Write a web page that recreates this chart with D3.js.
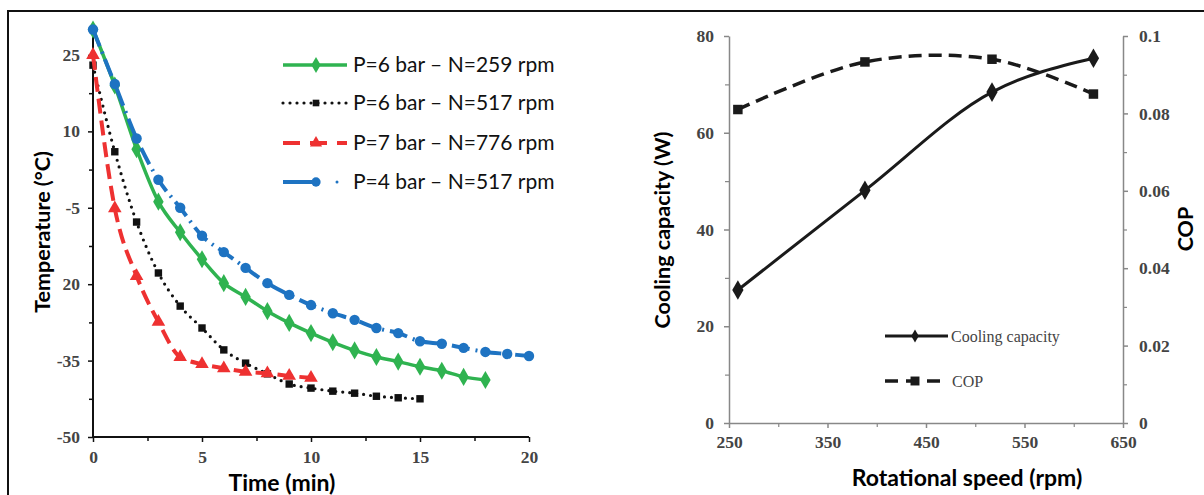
<!DOCTYPE html>
<html><head><meta charset="utf-8">
<script src="https://cdn.jsdelivr.net/npm/d3@7"></script>
<style>
html,body{margin:0;padding:0;background:#fff;}
svg{display:block;}
</style></head>
<body>
<svg id="c" width="1204" height="495"></svg>
<script>
// ---------- Left chart data ----------
const timeMin = [0,1,2,3,4,5,6,7,8,9,10,11,12,13,14,15,16,17,18,19,20];
const seriesNames = ["P=6 bar – N=259 rpm","P=6 bar – N=517 rpm","P=7 bar – N=776 rpm","P=4 bar – N=517 rpm"];
const tempP6N259 = [30,19,6.5,-3.8,-9.8,-15.1,-19.8,-22.5,-25.3,-27.6,-29.6,-31.4,-33.0,-34.3,-35.2,-36.2,-37.0,-38.2,-38.8];
const tempP6N517 = [23,6,-7.8,-17.8,-24.3,-28.6,-32.9,-35.5,-37.6,-39.6,-40.4,-41.0,-41.4,-42.0,-42.3,-42.5];
const tempP7N776 = [25,-5.1,-18.4,-27.4,-34.3,-35.7,-36.5,-37.2,-37.5,-38.0,-38.4];
const tempP4N517 = [30,19.3,8.6,0.5,-5.0,-10.5,-13.7,-16.8,-19.8,-22.1,-24.1,-25.7,-27.0,-28.6,-29.6,-31.2,-31.7,-32.5,-33.3,-33.7,-34.1];
const tempTicks = [25,10,-5,-20,-35,-50];
const tempTickLabels = ["25","10","-5","20","-35","-50"];
const timeTicks = [0,5,10,15,20];

// ---------- Right chart data ----------
const rpm = [259,388,517,620];
const coolingCapacity = [27.5,48.1,68.4,75.4];
const cop = [0.081,0.0933,0.094,0.085];
const rpmTicks = [250,350,450,550,650];
const capTicks = [0,20,40,60,80];
const copTicks = [0,0.02,0.04,0.06,0.08,0.1];
const copTickLabels = ["0","0.02","0.04","0.06","0.08","0.1"];

const svg = d3.select("#c");
svg.append("rect").attr("x",8).attr("y",11).attr("width",1210).attr("height",510)
  .attr("fill","none").attr("stroke","#111").attr("stroke-width",2);

const serif = "'Liberation Serif','Times New Roman',serif";
const sans = "Lato,'Open Sans',sans-serif";
const titleSize = 22;
const tickSize = 17.5;

// ================= LEFT CHART =================
const xL = d3.scaleLinear().domain([0,20]).range([93,529]);
const yL = d3.scaleLinear().domain([-50,30]).range([437,29.5]);
const gL = svg.append("g");

const yAxisL = d3.axisLeft(yL).tickValues(tempTicks).tickSize(5).tickFormat((d,i)=>tempTickLabels[i]);
const yAxisLMinor = d3.axisLeft(yL).tickValues(d3.range(-42.5,30,15)).tickSize(4).tickFormat("");
const xAxisL = d3.axisBottom(xL).tickValues(timeTicks).tickSize(5).tickFormat(d3.format("d"));
const xAxisLMinor = d3.axisBottom(xL).tickValues(d3.range(2.5,20,5)).tickSize(4).tickFormat("");

function styleAxis(g, color, width){
  g.attr("font-family",serif).attr("font-size",tickSize);
  g.select(".domain").attr("stroke",color).attr("stroke-width",width);
  g.selectAll(".tick line").attr("stroke",color).attr("stroke-width",width*0.75);
  g.selectAll(".tick text").attr("font-family",serif).attr("font-weight","bold").attr("font-size",tickSize).attr("fill","#444");
}
const gy = gL.append("g").attr("transform","translate(93,0)").call(yAxisL);
gy.select(".domain").attr("d","M0,29.5V437");
styleAxis(gy,"#111",2);
gy.selectAll(".tick text").attr("x",-13);
const gym = gL.append("g").attr("transform","translate(93,0)").call(yAxisLMinor);
gym.select(".domain").remove(); gym.selectAll("line").attr("stroke","#111").attr("stroke-width",1.5);

const gx = gL.append("g").attr("transform","translate(0,437)").call(xAxisL);
styleAxis(gx,"#111",2);
gx.select(".domain").attr("d","M93,0H529");
gx.selectAll(".tick text").attr("y",14);
const gxm = gL.append("g").attr("transform","translate(0,437)").call(xAxisLMinor);
gxm.select(".domain").remove(); gxm.selectAll("line").attr("stroke","#111").attr("stroke-width",1.5);

gL.append("text").attr("x",282).attr("y",491).attr("text-anchor","middle")
  .attr("font-family",sans).attr("font-weight","bold").attr("font-size",titleSize+1).attr("fill","#000").text("Time (min)");
gL.append("text").attr("transform","translate(50,232) rotate(-90)").attr("text-anchor","middle")
  .attr("font-family",sans).attr("font-weight","bold").attr("font-size",titleSize-0.5).attr("fill","#000").text("Temperature (°C)");

const leftSeries = [
  {name:seriesNames[0], values:tempP6N259, color:"#2fb350", dash:null, width:3.5, marker:"diamond", cap:"butt"},
  {name:seriesNames[1], values:tempP6N517, color:"#111", dash:"0,7", width:3.2, marker:"square", cap:"round"},
  {name:seriesNames[2], values:tempP7N776, color:"#ee3131", dash:"15,7", width:4, marker:"triangle", cap:"butt"},
  {name:seriesNames[3], values:tempP4N517, color:"#1e73c2", dash:"18,6,2,6", width:4, marker:"circle", cap:"butt"}
];
const symType = {diamond:d3.symbolDiamond, square:d3.symbolSquare, triangle:d3.symbolTriangle, circle:d3.symbolCircle};
const symSize = {diamond:95, square:55, triangle:80, circle:85};

const lineL = d3.line().x((d,i)=>xL(timeMin[i])).y(d=>yL(d)).curve(d3.curveMonotoneX);
[leftSeries[0],leftSeries[3],leftSeries[1],leftSeries[2]].forEach(s=>{
  gL.append("path").datum(s.values).attr("d",lineL).attr("fill","none")
    .attr("stroke",s.color).attr("stroke-width",s.width).attr("stroke-dasharray",s.dash)
    .attr("stroke-linecap",s.cap);
  gL.selectAll(null).data(s.values).enter().append("path")
    .attr("d",d3.symbol().type(symType[s.marker]).size(symSize[s.marker]))
    .attr("transform",(d,i)=>`translate(${xL(timeMin[i])},${yL(d)})`)
    .attr("fill",s.color);
});

const legY = [65,103,143,182];
leftSeries.forEach((s,i)=>{
  const y = legY[i];
  const g = gL.append("g");
  if(s.marker==="circle"){
    g.append("line").attr("x1",283).attr("x2",318).attr("y1",y).attr("y2",y)
      .attr("stroke",s.color).attr("stroke-width",s.width);
    g.append("circle").attr("cx",337).attr("cy",y).attr("r",1.5).attr("fill",s.color);
  } else {
    g.append("line").attr("x1",283).attr("x2",347).attr("y1",y).attr("y2",y)
      .attr("stroke",s.color).attr("stroke-width",s.width)
      .attr("stroke-dasharray",s.marker==="square"?"0,7":(s.marker==="triangle"?"17,10":null))
      .attr("stroke-linecap",s.cap);
  }
  g.append("path").attr("d",d3.symbol().type(symType[s.marker]).size(symSize[s.marker]*0.8))
    .attr("transform",`translate(316,${y})`).attr("fill",s.color);
  g.append("text").attr("x",353).attr("y",y).attr("dy","0.35em")
    .attr("font-family",sans).attr("font-size",21).attr("fill","#111").text(s.name);
});

// ================= RIGHT CHART =================
const xR = d3.scaleLinear().domain([250,650]).range([729,1123]);
const yCap = d3.scaleLinear().domain([0,80]).range([423,36]);
const yCop = d3.scaleLinear().domain([0,0.1]).range([423,36]);
const gR = svg.append("g");
const gray = "#888";

function styleAxisR(g){
  g.attr("font-family",serif).attr("font-size",tickSize);
  g.select(".domain").attr("stroke",gray).attr("stroke-width",1.5);
  g.selectAll(".tick line").attr("stroke",gray).attr("stroke-width",1.5);
  g.selectAll(".tick text").attr("font-family",serif).attr("font-weight","bold").attr("font-size",tickSize).attr("fill","#444");
}
const gyc = gR.append("g").attr("transform","translate(729,0)")
  .call(d3.axisLeft(yCap).tickValues(capTicks).tickSize(5).tickSizeOuter(0));
styleAxisR(gyc); gyc.selectAll(".tick text").attr("x",-15);
const gycm = gR.append("g").attr("transform","translate(729,0)")
  .call(d3.axisLeft(yCap).tickValues(d3.range(10,80,20)).tickSize(4).tickFormat(""));
gycm.select(".domain").remove(); gycm.selectAll("line").attr("stroke",gray).attr("stroke-width",1.2);

const gyr = gR.append("g").attr("transform","translate(1123,0)")
  .call(d3.axisRight(yCop).tickValues(copTicks).tickSize(5).tickSizeOuter(0).tickFormat((d,i)=>copTickLabels[i]));
styleAxisR(gyr); gyr.selectAll(".tick text").attr("x",16);
const gyrm = gR.append("g").attr("transform","translate(1123,0)")
  .call(d3.axisRight(yCop).tickValues(d3.range(0.01,0.1,0.02)).tickSize(4).tickFormat(""));
gyrm.select(".domain").remove(); gyrm.selectAll("line").attr("stroke",gray).attr("stroke-width",1.2);

const gxr = gR.append("g").attr("transform","translate(0,423)")
  .call(d3.axisBottom(xR).tickValues(rpmTicks).tickSize(5).tickSizeOuter(0));
styleAxisR(gxr); gxr.selectAll(".tick text").attr("y",13);
const gxrm = gR.append("g").attr("transform","translate(0,423)")
  .call(d3.axisBottom(xR).tickValues(d3.range(300,650,100)).tickSize(4).tickFormat(""));
gxrm.select(".domain").remove(); gxrm.selectAll("line").attr("stroke",gray).attr("stroke-width",1.2);

gR.append("text").attr("x",967).attr("y",486).attr("text-anchor","middle")
  .attr("font-family",sans).attr("font-weight","bold").attr("font-size",titleSize+1).attr("fill","#000").text("Rotational speed (rpm)");
gR.append("text").attr("transform","translate(670,230) rotate(-90)").attr("text-anchor","middle")
  .attr("font-family",sans).attr("font-weight","bold").attr("font-size",titleSize-0.5).attr("fill","#000").text("Cooling capacity (W)");
gR.append("text").attr("transform","translate(1193,229) rotate(-90)").attr("text-anchor","middle")
  .attr("font-family",sans).attr("font-weight","bold").attr("font-size",titleSize-0.5).attr("fill","#000").text("COP");

const dark = "#1a1a1a";
gR.append("path").datum(coolingCapacity)
  .attr("d",d3.line().x((d,i)=>xR(rpm[i])).y(d=>yCap(d)).curve(d3.curveMonotoneX))
  .attr("fill","none").attr("stroke",dark).attr("stroke-width",3);
gR.selectAll(null).data(coolingCapacity).enter().append("path")
  .attr("d",d3.symbol().type(d3.symbolDiamond).size(110))
  .attr("transform",(d,i)=>`translate(${xR(rpm[i])},${yCap(d)})`).attr("fill",dark);
gR.append("path").datum(cop)
  .attr("d",d3.line().x((d,i)=>xR(rpm[i])).y(d=>yCop(d)).curve(d3.curveCatmullRom.alpha(0.5)))
  .attr("fill","none").attr("stroke",dark).attr("stroke-width",3.5).attr("stroke-dasharray","13,7");
gR.selectAll(null).data(cop).enter().append("path")
  .attr("d",d3.symbol().type(d3.symbolSquare).size(90))
  .attr("transform",(d,i)=>`translate(${xR(rpm[i])},${yCop(d)})`).attr("fill",dark);

gR.append("line").attr("x1",885).attr("x2",948).attr("y1",336).attr("y2",336).attr("stroke",dark).attr("stroke-width",3);
gR.append("path").attr("d",d3.symbol().type(d3.symbolDiamond).size(50)).attr("transform","translate(915,336)").attr("fill",dark);
gR.append("text").attr("x",951).attr("y",336).attr("dy","0.35em").attr("font-family",serif).attr("font-size",16).attr("fill","#444").text("Cooling capacity");
gR.append("line").attr("x1",885).attr("x2",941).attr("y1",381).attr("y2",381).attr("stroke",dark).attr("stroke-width",3.5).attr("stroke-dasharray","13,8");
gR.append("path").attr("d",d3.symbol().type(d3.symbolSquare).size(80)).attr("transform","translate(915,381)").attr("fill",dark);
gR.append("text").attr("x",952).attr("y",381).attr("dy","0.35em").attr("font-family",serif).attr("font-size",16).attr("fill","#444").text("COP");
</script>
</body></html>
